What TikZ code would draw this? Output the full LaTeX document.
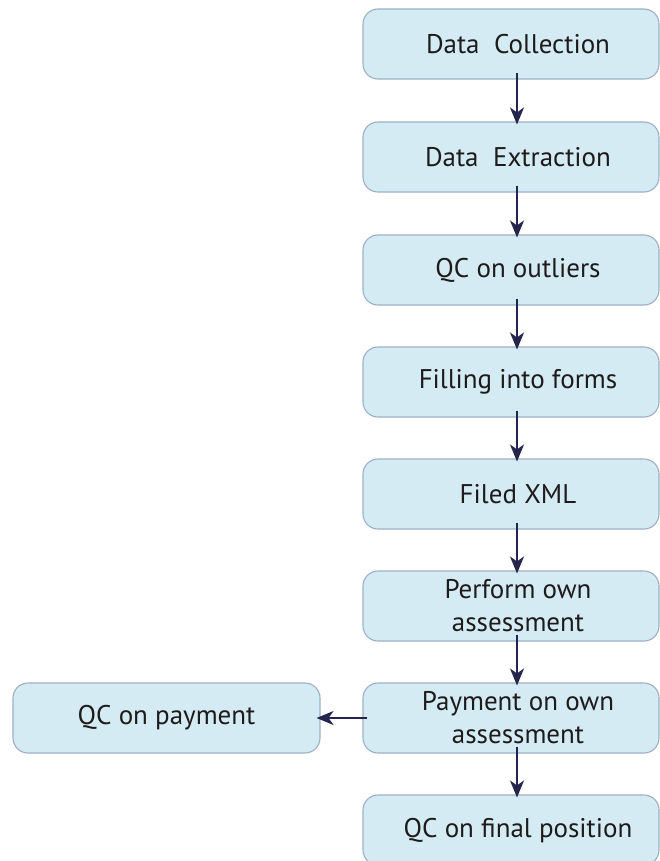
\documentclass[tikz,border=0pt]{standalone}
\usepackage{fontspec}
\setmainfont{PT Sans}
\usetikzlibrary{arrows.meta}
\definecolor{boxfill}{HTML}{D5EBF4}
\definecolor{boxline}{HTML}{9DB0C2}
\definecolor{arrowcol}{HTML}{25244F}
\definecolor{txtcol}{HTML}{1E1B1C}
\begin{document}
\begin{tikzpicture}[x=1pt,y=1pt,
  stagebox/.style={draw=boxline, fill=boxfill, line width=1.1pt, rounded corners=15pt,
    minimum width=296pt, minimum height=70pt, inner sep=0pt},
  sidebox/.style={stagebox, minimum width=307pt},
  label/.style={text=txtcol, font=\fontsize{27}{33}\selectfont, align=center, inner sep=0pt},
  flow/.style={draw=arrowcol, line width=1.7pt, -{Stealth[length=17pt,width=14pt,inset=5pt]}}]
\useasboundingbox (0,0) rectangle (660,-861);
\clip (0,0) rectangle (660,-861);

% main column of stages
\node[stagebox] (b1) at (511,-44)  {};
\node[stagebox] (b2) at (511,-157) {};
\node[stagebox] (b3) at (511,-270) {};
\node[stagebox] (b4) at (511,-382) {};
\node[stagebox] (b5) at (511,-494) {};
\node[stagebox] (b6) at (511,-606) {};
\node[stagebox] (b7) at (511,-718) {};
\node[stagebox] (b8) at (511,-830) {};
% side branch
\node[sidebox] (qp) at (166.5,-718) {};

% stage labels
\node[label] (t1) at ([xshift=7pt]b1.center) {Data~\ Collection};
\node[label] (t2) at ([xshift=7pt]b2.center) {Data~\ Extraction};
\node[label] (t3) at ([xshift=7pt]b3.center) {QC on outliers};
\node[label] (t4) at ([xshift=7pt]b4.center) {Filling into forms};
\node[label] (t5) at ([xshift=7pt]b5.center) {Filed XML};
\node[label] (t6) at ([xshift=7pt]b6.center) {Perform own\\assessment};
\node[label] (t7) at ([xshift=7pt]b7.center) {Payment on own\\assessment};
\node[label] (t8) at ([xshift=7pt,yshift=-1pt]b8.center) {QC on final position};
\node[label] (tq) at (qp.center) {QC on payment};

% connectors
\foreach \a/\b in {b1/b2, b2/b3, b3/b4, b4/b5, b5/b6, b6/b7, b7/b8}
  \draw[flow] ([xshift=6pt,yshift=7pt]\a.south) -- ([xshift=6pt,yshift=-3pt]\b.north);
\draw[flow] ([xshift=5pt]b7.west) -- ([xshift=-4pt]qp.east);
\end{tikzpicture}
\end{document}
